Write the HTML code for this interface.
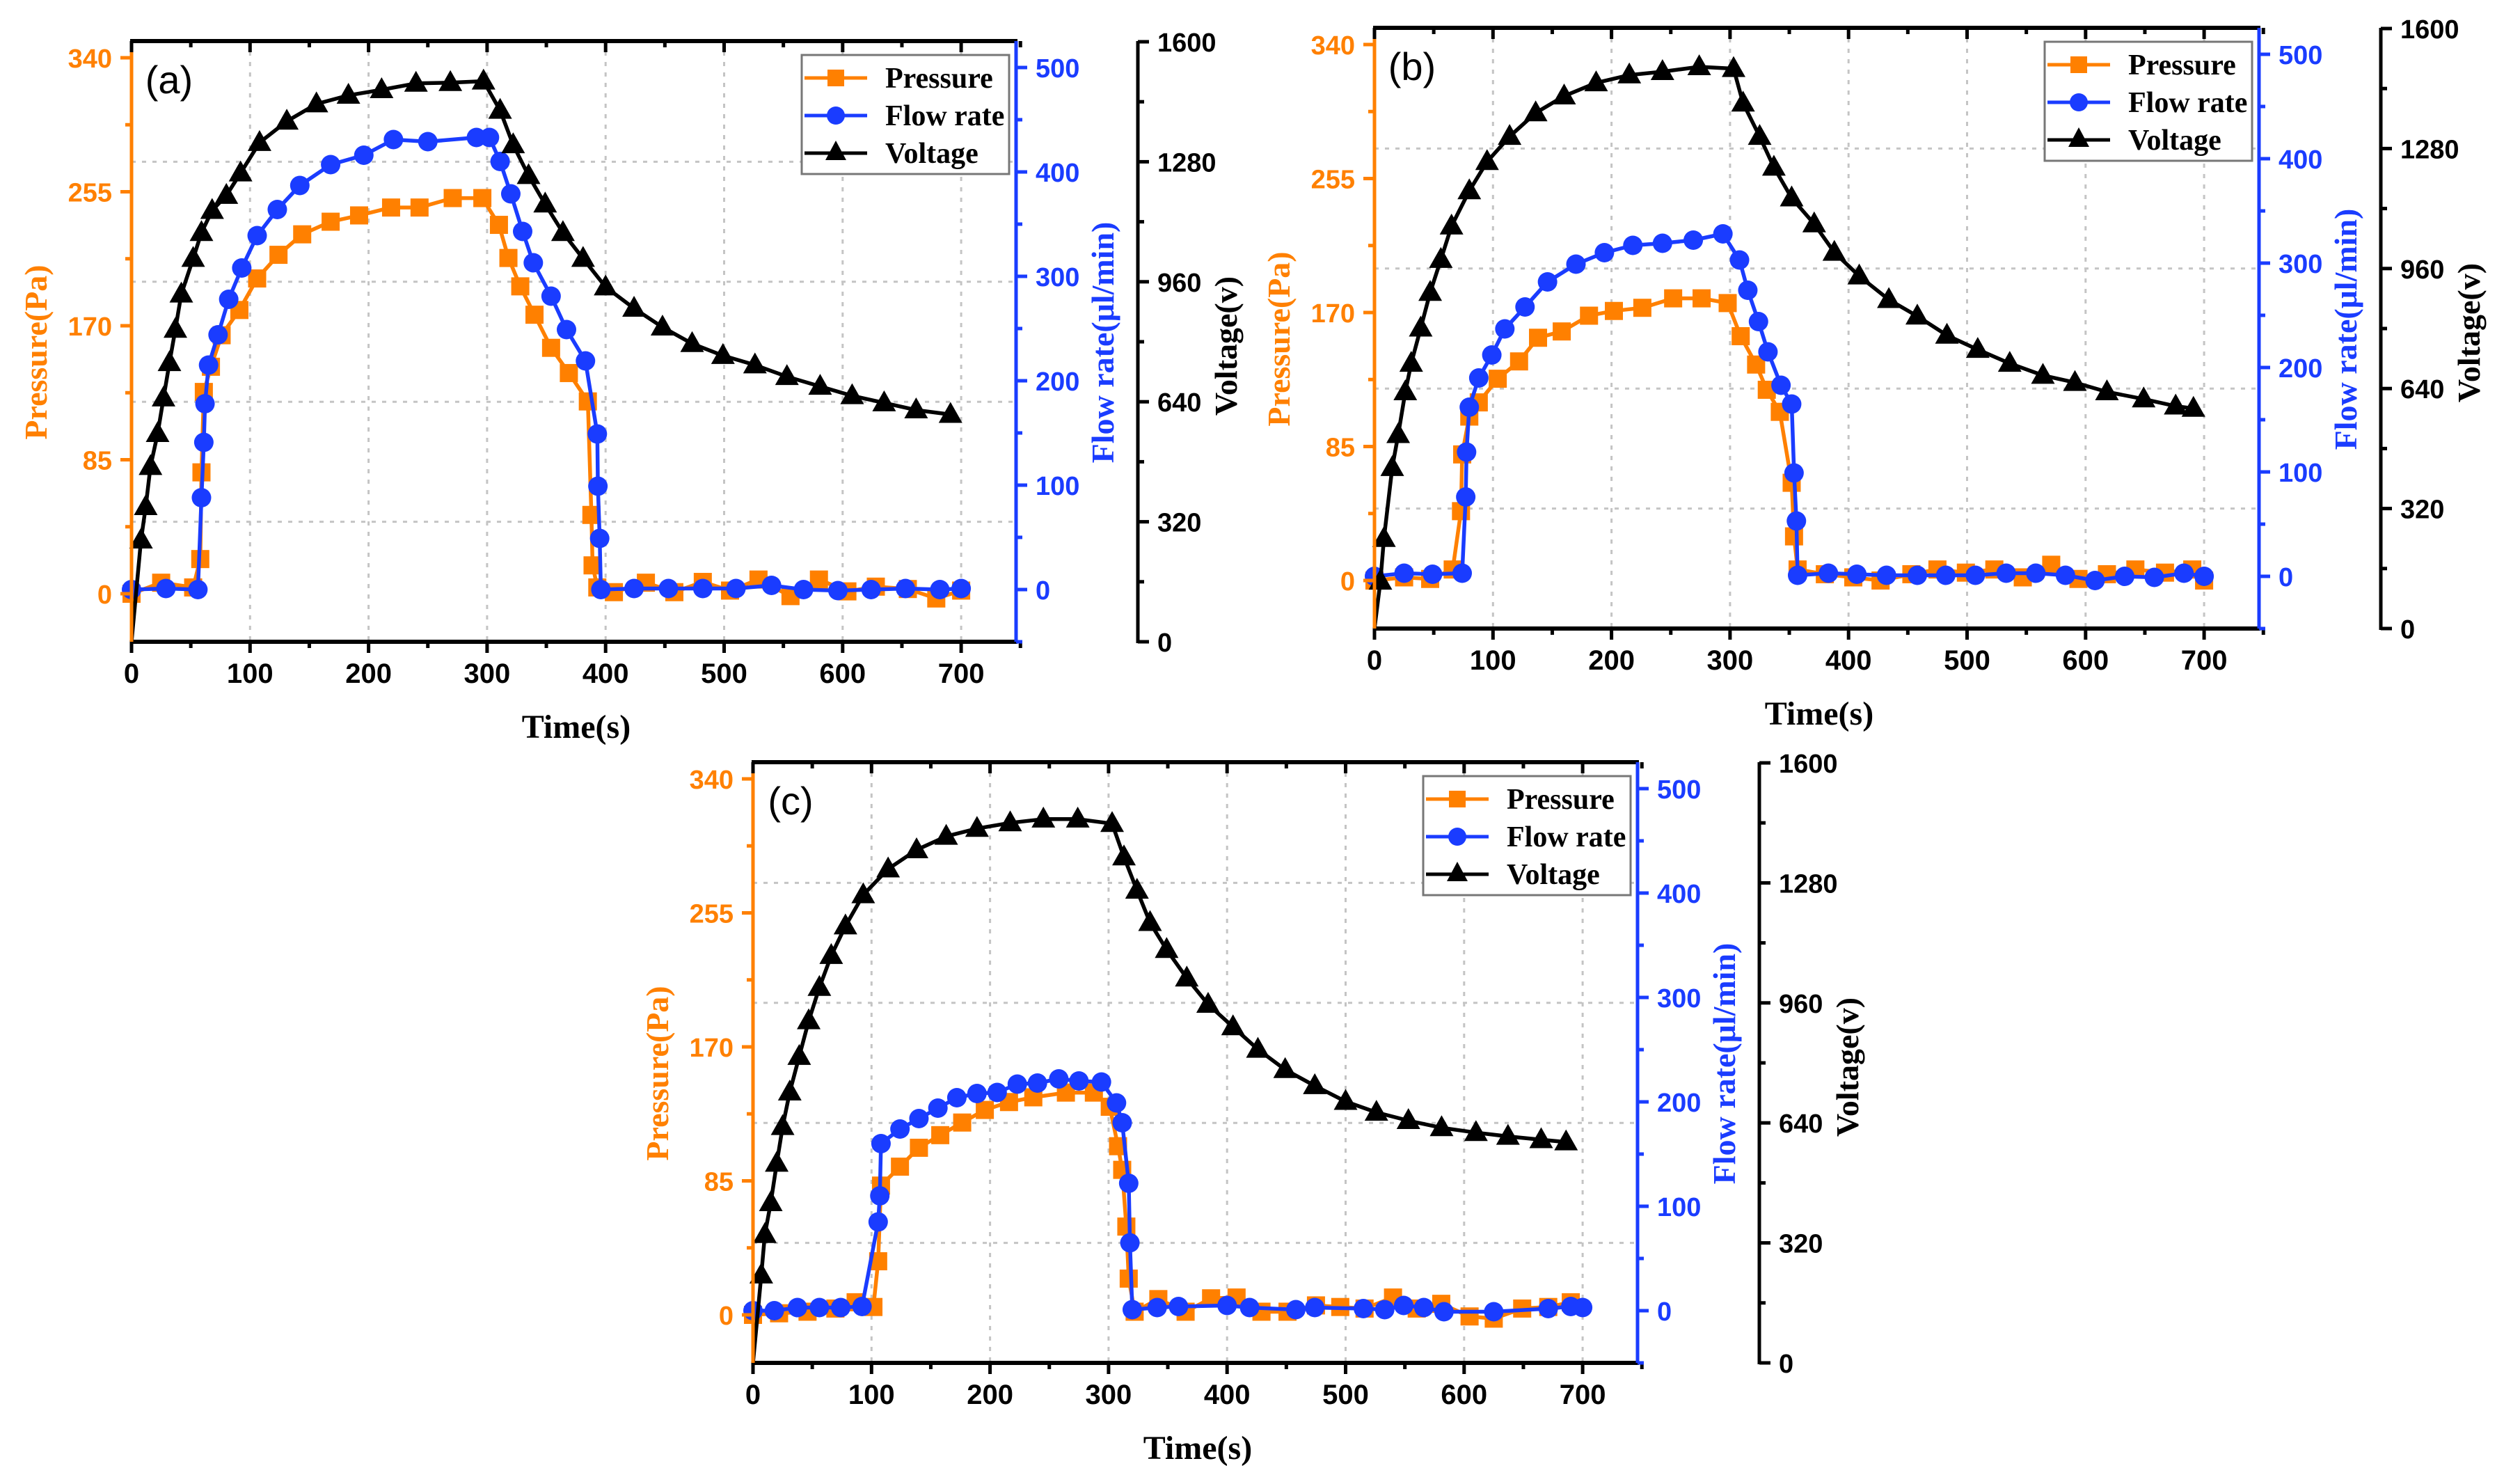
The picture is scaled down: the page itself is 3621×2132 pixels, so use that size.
<!DOCTYPE html>
<html><head><meta charset="utf-8">
<style>
html,body{margin:0;padding:0;background:#fff;}
svg{display:block;}
</style></head>
<body>
<svg id="chart" xmlns="http://www.w3.org/2000/svg" width="3621" height="2132" viewBox="0 0 3621 2132">
<rect width="3621" height="2132" fill="#fff"/>
</svg>
<script>
// ---------- Panel (a) data ----------
const timeTicks = [0,100,200,300,400,500,600,700];
const pressureTicks = [0,85,170,255,340];
const flowTicks = [0,100,200,300,400,500];
const voltageTicks = [0,320,640,960,1280,1600];

const voltTimeA = [0,8,12,16,22,27,32,37,42,52,59,68,80,92,108,131,156,183,211,240,269,297,311,322,335,349,364,381,400,424,448,473,499,526,553,581,608,635,662,691];
const voltA = [0,271,360,467,555,650,744,833,927,1022,1091,1150,1190,1250,1331,1388,1434,1457,1472,1489,1491,1495,1417,1325,1243,1167,1091,1022,946,889,839,795,763,738,707,681,656,637,618,606];

const flowTimeA = [0,29,56,59,61,62,65,73,82,93,106,123,142,168,196,221,250,291,302,311,320,330,339,354,367,383,393,393.5,395,396,424,453,482,510,540,567,596,624,653,682,700];
const flowA = [0,1,0,88,141,178,215,244,278,308,339,364,387,407,416,431,429,433,433,410,379,343,313,281,249,219,149,99,49,0,1,1,1,1,4,0,-1,0,1,0,1];

const presTimeA = [0,25,52,58,59,61,67,76,91,106,124,144,168,192,219,243,271,296,310,318,328,340,354,369,385,388,389,393,407,434,458,482,505,529,556,580,604,628,655,679,700];
const presA = [0,7,4,22,77,128,144,164,180,200,215,228,236,240,245,245,251,251,234,213,195,177,156,140,122,50,18,4,1,7,1,7.5,2,9,-1.5,9,1.5,4.5,3,-3,2];

// ---------- Panel (b) data ----------
const voltTimeB = [0,5,8,15,20,26,31,39,47,56,65,80,95,114,136,160,187,215,243,274,303,311,325,337,352,371,388,409,434,458,483,509,536,564,591,618,649,676,691];
const voltB = [0,126,240,429,517,631,707,801,896,984,1073,1167,1245,1312,1375,1420,1455,1476,1485,1498,1493,1401,1312,1230,1148,1079,1003,940,877,833,782,744,707,675,656,631,612,593,587];

const flowTimeB = [0,25,49,74,77,77.7,80,88,99,110,127,146,170,194,218,243,269,294,308,315,324,332,343,352,354,356,357,383,407,432,458,482,507,533,558,583,608,633,658,683,700];
const flowB = [0,3,2,3,76,119,162,190,212,237,258,282,299,310,317,319,322,328,303,274,244,215,183,165,99,53,1,3,2,1,1,1,1,3,3,1,-4,0,-1,3,0];

const presTimeB = [0,25,47,66,73,74,80,88,104,122,138,158,181,202,226,252,276,298,309,322,331,342,352,354,357,380,404,427,453,475,499,523,547,571,594,618,642,667,690,700];
const presB = [0,2,1,7,44,80,104,113,128,139,154,158,168,171,173,179,179,176,155,137,121,107,62,28,7,4,2,0,4,7,5,7,2,10,1,4,7,5,7,0];

// ---------- Panel (c) data ----------
const voltTimeC = [0,7,10,15,20,25,31,39,47,56,66,78,93,114,138,163,189,217,245,274,303,313,324,335,349,366,384,405,426,449,474,500,526,553,581,610,637,665,686];
const voltC = [0,234,342,427,532,630,722,817,912,1001,1086,1165,1248,1317,1368,1404,1425,1440,1450,1450,1438,1349,1260,1174,1102,1026,956,896,836,782,739,697,668,646,627,614,604,595,589];

const flowTimeC = [0,18,37.5,56,74,92,105.6,107,108,124,140,156,172,189,206,223,240,258,275,294,306.7,311.5,317,318,320,341,359,400,419,458,474,515,533,549,566,583,625,671,690,700];
const flowC = [0,0,3,3,3,4,85,110,160,174,184,194,204,208,209,217,218,222,220,219,199,180,122,65,1,3,4,5,3,1,3,2,1,5,3,-1,-1,2,4,3];

const presTimeC = [0,22,46,69.5,86.6,101.6,105.6,108,124,140,158,176.5,195.6,216,236.5,264,287.6,301,308,311.5,315,317,322,342,365,386.5,408,429,451,475,495.5,516,540,560,580.7,604.6,625,649,671,690];
const presC = [0,1,2,4,8,5,34,82,94,106,114,122,130,135,138,141,141,132,107,92,56,23,2,10,2,10.5,11,2,2,6,5,4,11,4,7,-1,-2.4,4,5,8];

const panelLabels = ['(a)','(b)','(c)'];
const legendLabels = ['Pressure','Flow rate','Voltage'];

const ORANGE = '#ff8000', BLUE = '#1a3cff', BLACK = '#000';
const NS = 'http://www.w3.org/2000/svg';
const svg = document.getElementById('chart');

function mk(tag, attrs, parent){
  const e = document.createElementNS(NS, tag);
  for (const k in attrs) e.setAttribute(k, attrs[k]);
  (parent||svg).appendChild(e);
  return e;
}

function drawPanel(idx, x0, top, series){
  const W = 1271, H = 863;
  const g = mk('g', {});
  
  
  const xS = t => x0 + t * 170.3 / 100;
  const pS = p => top + 794 - p * (770 / 340);
  const fS = f => top + 788 - f * (750 / 500);
  const vS = v => top + 863 - v * (862 / 1600);
  const right = x0 + W, bottom = top + H, vx = x0 + 1446;

  for (const t of timeTicks.slice(1)) {
    const l = mk('line', {x1:xS(t), x2:xS(t), y1:top, y2:bottom, stroke:'#c4c4c4', 'stroke-width':3, 'stroke-dasharray':'6 9'}, g);
    
    
  }
  for (const v of voltageTicks.slice(1, -1)) {
    const l = mk('line', {x1:x0, x2:right, y1:vS(v), y2:vS(v), stroke:'#c4c4c4', 'stroke-width':3, 'stroke-dasharray':'6 9'}, g);
    
    
  }

  function drawSeries(ts, vs, yS, color, shape, name){
    const sg = mk('g', {}, g);
    
    
    const pts = ts.map((t,i) => xS(t).toFixed(1) + ',' + yS(vs[i]).toFixed(1)).join(' ');
    const pl = mk('polyline', {points:pts, fill:'none', stroke:color, 'stroke-width':5.5, 'stroke-linejoin':'round'}, sg);
    
    
    ts.forEach((t,i) => {
      if (i === 0 && shape === 'tri') return;
      const cx = xS(t), cy = yS(vs[i]);
      let m;
      if (shape === 'sq') m = mk('rect', {x:cx-13, y:cy-13, width:26, height:26, fill:color}, sg);
      else if (shape === 'ci') m = mk('circle', {cx:cx, cy:cy, r:14, fill:color}, sg);
      else m = mk('polygon', {points:`${cx},${cy-18} ${cx-17},${cy+12} ${cx+17},${cy+12}`, fill:color}, sg);
      
      
    });
  }
  drawSeries(series.pt, series.p, pS, ORANGE, 'sq', 'pressure');
  drawSeries(series.ft, series.f, fS, BLUE, 'ci', 'flow-rate');
  drawSeries(series.vt, series.v, vS, BLACK, 'tri', 'voltage');

  let e;
  e = mk('line', {x1:x0-2, x2:right+2, y1:top, y2:top, stroke:BLACK, 'stroke-width':6}, g);
   
  e = mk('line', {x1:x0-2, x2:right+2, y1:bottom, y2:bottom, stroke:BLACK, 'stroke-width':6}, g);
   
  e = mk('line', {x1:x0, x2:x0, y1:top, y2:bottom, stroke:ORANGE, 'stroke-width':5}, g);
   
  e = mk('line', {x1:right, x2:right, y1:top, y2:bottom, stroke:BLUE, 'stroke-width':5}, g);
   
  e = mk('line', {x1:vx, x2:vx, y1:top, y2:bottom+2, stroke:BLACK, 'stroke-width':5}, g);
   

  for (let t = 0; t <= 750; t += 50) {
    const major = t % 100 === 0, len = major ? 16 : 9;
    mk('line', {x1:xS(t), x2:xS(t), y1:bottom, y2:bottom+len, stroke:BLACK, 'stroke-width':5}, g);
    mk('line', {x1:xS(t), x2:xS(t), y1:top, y2:top+len, stroke:BLACK, 'stroke-width':5}, g);
  }
  timeTicks.forEach(t => {
    const tx = mk('text', {x:xS(t), y:bottom+59, 'text-anchor':'middle', 'font-family':'Liberation Sans, sans-serif', 'font-weight':'bold', 'font-size':40, fill:BLACK}, g);
    tx.textContent = t;
    
    
  });
  e = mk('text', {x:x0+639, y:bottom+138, 'text-anchor':'middle', 'font-family':'Liberation Serif, serif', 'font-weight':'bold', 'font-size':48, fill:BLACK}, g);
  e.textContent = 'Time(s)';
   

  for (let p = 0; p <= 340; p += 42.5) {
    const major = (p % 85) === 0, len = major ? 16 : 9;
    mk('line', {x1:x0-len, x2:x0, y1:pS(p), y2:pS(p), stroke:ORANGE, 'stroke-width':5}, g);
  }
  pressureTicks.forEach(p => {
    const tx = mk('text', {x:x0-28, y:pS(p)+14, 'text-anchor':'end', 'font-family':'Liberation Sans, sans-serif', 'font-weight':'bold', 'font-size':38, fill:ORANGE}, g);
    tx.textContent = p;
    
    
  });
  e = mk('text', {x:0, y:0, transform:`translate(${x0-122},${top+447}) rotate(-90)`, 'text-anchor':'middle', 'font-family':'Liberation Serif, serif', 'font-weight':'bold', 'font-size':46, fill:ORANGE}, g);
  e.textContent = 'Pressure(Pa)';
   

  for (let f = -50; f <= 500; f += 50) {
    const major = f % 100 === 0, len = major ? 16 : 9;
    mk('line', {x1:right, x2:right+len, y1:fS(f), y2:fS(f), stroke:BLUE, 'stroke-width':5}, g);
  }
  flowTicks.forEach(f => {
    const tx = mk('text', {x:right+28, y:fS(f)+14, 'text-anchor':'start', 'font-family':'Liberation Sans, sans-serif', 'font-weight':'bold', 'font-size':38, fill:BLUE}, g);
    tx.textContent = f;
    
    
  });
  e = mk('text', {x:0, y:0, transform:`translate(${right+140},${top+433}) rotate(-90)`, 'text-anchor':'middle', 'font-family':'Liberation Serif, serif', 'font-weight':'bold', 'font-size':46, fill:BLUE}, g);
  e.textContent = 'Flow rate(\u03bcl/min)';
   

  for (let v = 0; v <= 1600; v += 160) {
    const major = v % 320 === 0, len = major ? 16 : 9;
    mk('line', {x1:vx, x2:vx+len, y1:vS(v), y2:vS(v), stroke:BLACK, 'stroke-width':5}, g);
  }
  voltageTicks.forEach(v => {
    const tx = mk('text', {x:vx+28, y:vS(v)+14, 'text-anchor':'start', 'font-family':'Liberation Sans, sans-serif', 'font-weight':'bold', 'font-size':38, fill:BLACK}, g);
    tx.textContent = v;
    
    
  });
  e = mk('text', {x:0, y:0, transform:`translate(${vx+142},${top+438}) rotate(-90)`, 'text-anchor':'middle', 'font-family':'Liberation Serif, serif', 'font-weight':'bold', 'font-size':46, fill:BLACK}, g);
  e.textContent = 'Voltage(v)';
   

  e = mk('text', {x:x0+54, y:top+75, 'text-anchor':'middle', 'font-family':'Liberation Sans, sans-serif', 'font-size':56, fill:BLACK}, g);
  e.textContent = panelLabels[idx];
   

  const lx = right - 308, ly = top + 20;
  const lg = mk('g', {}, g);
  
  
  mk('rect', {x:lx, y:ly, width:298, height:171, fill:'#fff', stroke:'#777', 'stroke-width':3}, lg);
  const cols = [ORANGE, BLUE, BLACK], shapes = ['sq','ci','tri'];
  legendLabels.forEach((lab,i) => {
    const cy = ly + 33 + i*54;
    const en = mk('g', {}, lg);
    
    
    mk('line', {x1:lx+4, x2:lx+94, y1:cy, y2:cy, stroke:cols[i], 'stroke-width':5}, en);
    const cx = lx + 49;
    if (shapes[i]==='sq') mk('rect', {x:cx-12, y:cy-12, width:24, height:24, fill:cols[i]}, en);
    else if (shapes[i]==='ci') mk('circle', {cx:cx, cy:cy, r:13, fill:cols[i]}, en);
    else mk('polygon', {points:`${cx},${cy-18} ${cx-15},${cy+10} ${cx+15},${cy+10}`, fill:cols[i]}, en);
    const tx = mk('text', {x:lx+120, y:cy+14, 'font-family':'Liberation Serif, serif', 'font-weight':'bold', 'font-size':42, fill:BLACK}, en);
    tx.textContent = lab;
  });
}

drawPanel(0, 189, 59, {pt:presTimeA, p:presA, ft:flowTimeA, f:flowA, vt:voltTimeA, v:voltA});
drawPanel(1, 1975, 40, {pt:presTimeB, p:presB, ft:flowTimeB, f:flowB, vt:voltTimeB, v:voltB});
drawPanel(2, 1082, 1095, {pt:presTimeC, p:presC, ft:flowTimeC, f:flowC, vt:voltTimeC, v:voltC});
</script>
</body></html>
